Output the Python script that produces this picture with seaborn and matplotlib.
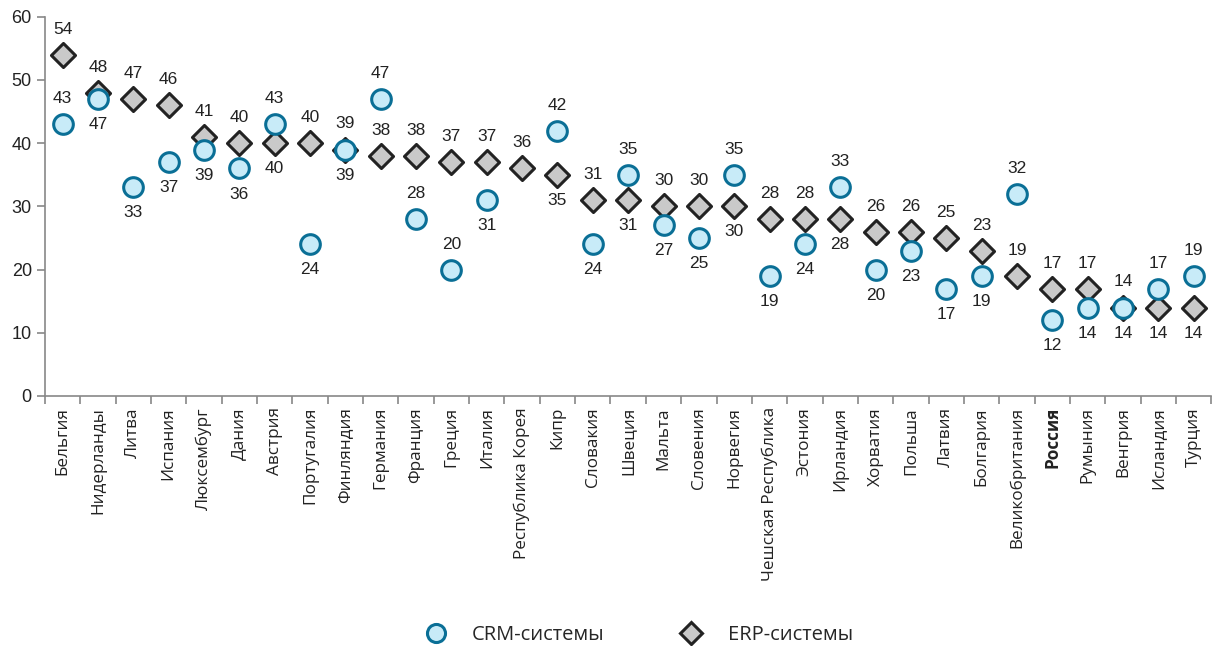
import numpy as np
import pandas as pd
import matplotlib
matplotlib.use("Agg")
import matplotlib.pyplot as plt
import seaborn as sns
from matplotlib.lines import Line2D

countries = ["Бельгия", "Нидерланды", "Литва", "Испания", "Люксембург", "Дания",
             "Австрия", "Португалия", "Финляндия", "Германия", "Франция", "Греция",
             "Италия", "Республика Корея", "Кипр", "Словакия", "Швеция", "Мальта",
             "Словения", "Норвегия", "Чешская Республика", "Эстония", "Ирландия",
             "Хорватия", "Польша", "Латвия", "Болгария", "Великобритания", "Россия",
             "Румыния", "Венгрия", "Исландия", "Турция"]
crm = [43, 47, 33, 37, 39, 36, 43, 24, 39, 47, 28, 20, 31, np.nan, 42, 24, 35, 27,
       25, 35, 19, 24, 33, 20, 23, 17, 19, 32, 12, 14, 14, 17, 19]
erp = [54, 48, 47, 46, 41, 40, 40, 40, 39, 38, 38, 37, 37, 36, 35, 31, 31, 30,
       30, 30, 28, 28, 28, 26, 26, 25, 23, 19, 17, 17, 14, 14, 14]
# countries where the lower value's label sits above its marker too
both_above = ["Бельгия", "Германия", "Франция", "Греция", "Великобритания"]

sns.set_style("white")
plt.rcParams['font.family'] = ['Liberation Sans', 'DejaVu Sans']

df = pd.DataFrame({"country": countries, "crm": crm, "erp": erp})
df["x"] = np.arange(len(df))

fig = plt.figure(figsize=(12.15, 6.46), dpi=100)
ax = fig.add_axes([0.037, 0.387, 0.960, 0.587])

crm_face, crm_edge = "#c8ebf8", "#0a6f96"
erp_face, erp_edge = "#c9c9c9", "#222222"

sns.scatterplot(data=df, x="x", y="erp", marker="D", s=150, color=erp_face,
                edgecolor=erp_edge, linewidth=2.2, ax=ax, zorder=3)
sns.scatterplot(data=df, x="x", y="crm", marker="o", s=200, color=crm_face,
                edgecolor=crm_edge, linewidth=2.2, ax=ax, zorder=4)


def put_label(x, y, above):
    ax.annotate(f"{int(y)}", (x, y), xytext=(0, 13 if above else -13),
                textcoords="offset points", ha="center",
                va="bottom" if above else "top", fontsize=12.5, color="#222222")


for i, row in df.iterrows():
    c, e = row["crm"], row["erp"]
    if np.isnan(c):
        put_label(row["x"], e, True)
        continue
    hi, lo = (e, c) if e >= c else (c, e)
    put_label(row["x"], hi, True)
    put_label(row["x"], lo, row["country"] in both_above)

ax.set_xlim(-0.5, len(df) - 0.5)
ax.set_ylim(0, 60)
ax.set_yticks(range(0, 61, 10))
ax.set_xticks(np.arange(len(df)))
ax.set_xticklabels(countries, rotation=90, fontsize=12.3, color="#222222",
                   family=["Open Sans", "DejaVu Sans"])
for lab in ax.get_xticklabels():
    if lab.get_text() == "Россия":
        lab.set_fontweight("bold")
ax.set_xticks(np.arange(len(df) + 1) - 0.5, minor=True)
ax.tick_params(axis="x", which="major", length=0, pad=8)
ax.tick_params(axis="x", which="minor", length=6, color="#888888", width=1.2, direction="out", bottom=True)
ax.tick_params(axis="y", length=6, color="#888888", width=1.2, direction="out", left=True,
               labelsize=13, labelcolor="#222222")
ax.set_xlabel("")
ax.set_ylabel("")
sns.despine(ax=ax)
for sp in ["left", "bottom"]:
    ax.spines[sp].set_color("#888888")
    ax.spines[sp].set_linewidth(1.2)

handles = [
    Line2D([], [], marker="o", linestyle="", markersize=13, markerfacecolor=crm_face,
           markeredgecolor=crm_edge, markeredgewidth=2.2, label="CRM-системы"),
    Line2D([], [], marker="D", linestyle="", markersize=11, markerfacecolor=erp_face,
           markeredgecolor=erp_edge, markeredgewidth=2.2, label="ERP-системы"),
]
fig.legend(handles=handles, loc="center", bbox_to_anchor=(0.522, 0.017), ncol=2,
           frameon=False, columnspacing=3.3, handletextpad=0.8,
           prop={"family": ["Open Sans", "DejaVu Sans"], "size": 14.5})

fig.savefig("out.png", dpi=100)
